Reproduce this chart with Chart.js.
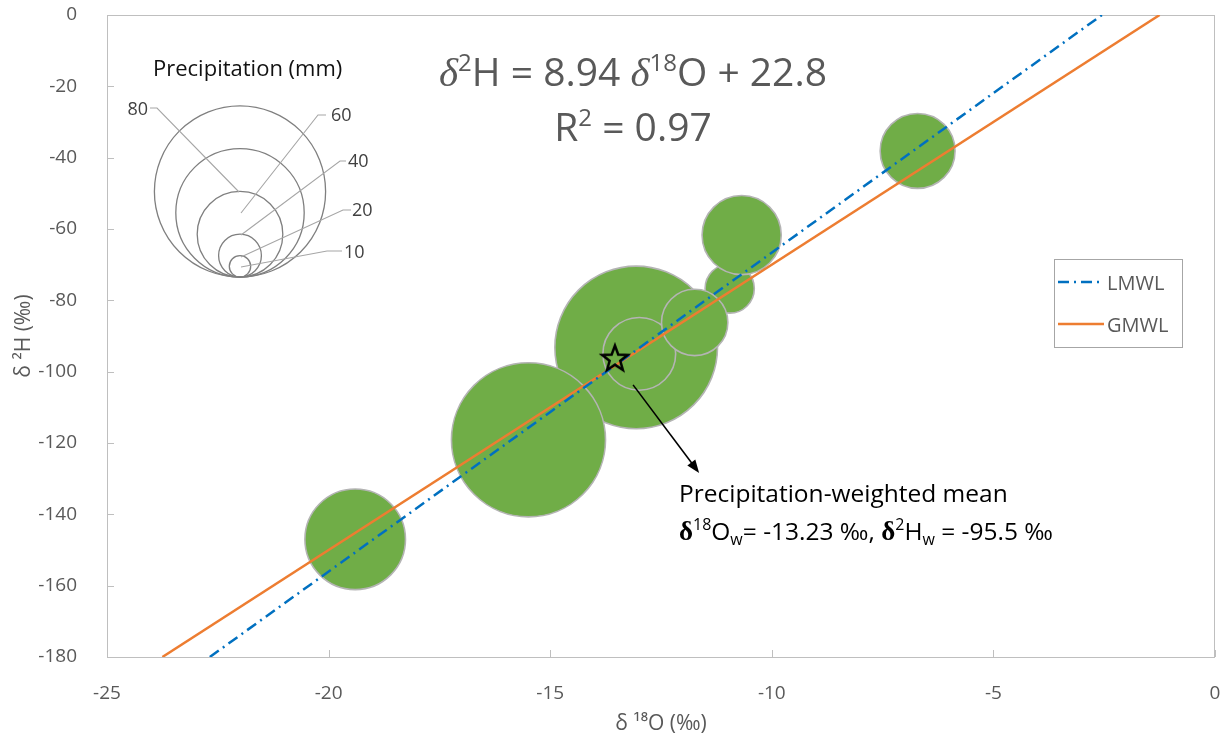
<!DOCTYPE html>
<html>
<head>
<meta charset="utf-8">
<script src="https://cdn.jsdelivr.net/npm/chart.js@4.4.1/dist/chart.umd.min.js"></script>
<style>
  html, body { margin: 0; background: #fff; }
  #wrap { width: 1225px; height: 740px; }
</style>
</head>
<body>
<div id="wrap"><canvas id="chart"></canvas></div>
<script>
// monthly samples: d18O, d2H (permil) and precipitation (mm)
const o18 = [-13.06, -15.49, -12.99, -10.95, -10.68, -11.74, -6.71, -19.40];
const h2 = [-93.2, -119.1, -95.0, -76.7, -61.7, -86.2, -38.1, -147.0];
const precip = [76, 72, 34, 23, 37, 31, 35, 47];

// meteoric water lines (end points)
const lmwlO = [-22.68, -2.55];
const lmwlH = [-180, 0];
const gmwlO = [-23.75, -1.25];
const gmwlH = [-180, 0];

// weighted mean marker + arrow
const meanO = [-13.54];
const meanH = [-96.2];
const arrowO = [-13.13, -11.64];
const arrowH = [-103.7, -128.4];

const xTicks = [-25, -20, -15, -10, -5, 0];
const yTicks = [0, -20, -40, -60, -80, -100, -120, -140, -160, -180];
const sizeLegend = [80, 60, 40, 20, 10];

const R_PER_MM = 1.07;
const GREY = '#595959';
const FONT = '"Open Sans", sans-serif';
Chart.defaults.font.family = FONT;
Chart.defaults.color = GREY;

const pts = (xs, ys) => xs.map((x, i) => ({x, y: ys[i]}));

function starImage(){
  const c = document.createElement('canvas');
  c.width = c.height = 34;
  const g = c.getContext('2d');
  g.beginPath();
  for (let i = 0; i < 10; i++) {
    const r = i % 2 ? 5.6 : 13.5;
    const a = -Math.PI / 2 + i * Math.PI / 5;
    g.lineTo(17 + r * Math.cos(a), 18 + r * Math.sin(a));
  }
  g.closePath();
  g.lineWidth = 2.5;
  g.strokeStyle = '#000';
  g.stroke();
  return c;
}

// draw a row of text pieces: [text, font, dy]
function runs(ctx, x, y, parts, align){
  let w = 0;
  parts.forEach(p => { ctx.font = p[1]; w += ctx.measureText(p[0]).width; });
  let cx = align === 'center' ? x - w / 2 : x;
  ctx.textAlign = 'left';
  ctx.textBaseline = 'alphabetic';
  parts.forEach(p => {
    ctx.font = p[1];
    ctx.fillText(p[0], cx, y + (p[2] || 0));
    cx += ctx.measureText(p[0]).width;
  });
}

const decor = {
  id: 'decor',
  beforeDatasetsDraw(chart){
    const {ctx, chartArea: a, scales: {x, y}} = chart;
    ctx.save();
    ctx.strokeStyle = '#BFBFBF';
    ctx.lineWidth = 1;
    ctx.strokeRect(a.left + 0.5, a.top + 0.5, a.right - a.left - 1, a.bottom - a.top);
    ctx.beginPath();
    xTicks.forEach(v => { const p = Math.round(x.getPixelForValue(v)) + 0.5; ctx.moveTo(p, a.bottom); ctx.lineTo(p, a.bottom - 7); });
    yTicks.forEach(v => { const p = Math.round(y.getPixelForValue(v)) + 0.5; ctx.moveTo(a.left, p); ctx.lineTo(a.left + 7, p); });
    ctx.stroke();
    ctx.restore();
  },
  afterDatasetsDraw(chart){
    const {ctx, scales: {x, y}} = chart;
    ctx.save();

    // arrow to the weighted mean label
    const x1 = x.getPixelForValue(arrowO[0]), y1 = y.getPixelForValue(arrowH[0]);
    const x2 = x.getPixelForValue(arrowO[1]), y2 = y.getPixelForValue(arrowH[1]);
    const ang = Math.atan2(y2 - y1, x2 - x1);
    ctx.strokeStyle = '#000'; ctx.fillStyle = '#000'; ctx.lineWidth = 1.6;
    ctx.beginPath(); ctx.moveTo(x1, y1); ctx.lineTo(x2 - 8 * Math.cos(ang), y2 - 8 * Math.sin(ang)); ctx.stroke();
    ctx.beginPath();
    ctx.moveTo(x2, y2);
    ctx.lineTo(x2 - 13 * Math.cos(ang) + 5 * Math.sin(ang), y2 - 13 * Math.sin(ang) - 5 * Math.cos(ang));
    ctx.lineTo(x2 - 13 * Math.cos(ang) - 5 * Math.sin(ang), y2 - 13 * Math.sin(ang) + 5 * Math.cos(ang));
    ctx.closePath(); ctx.fill();

    // precipitation size legend
    const cx = 240, bottom = 277;
    ctx.strokeStyle = '#7F7F7F'; ctx.lineWidth = 1.3;
    sizeLegend.forEach(v => {
      const r = v * R_PER_MM;
      ctx.beginPath(); ctx.arc(cx, bottom - r, r, 0, Math.PI * 2); ctx.stroke();
    });
    const leaders = [
      [[150, 108], [157, 108], [239, 192]],
      [[326, 115], [318, 115], [241, 213]],
      [[346, 161], [340, 161], [241, 235]],
      [[351, 210], [343, 210], [241, 257]],
      [[342, 251], [327, 251], [241, 267]]
    ];
    ctx.strokeStyle = '#A6A6A6'; ctx.lineWidth = 1.1;
    leaders.forEach(l => {
      ctx.beginPath(); ctx.moveTo(l[0][0], l[0][1]);
      l.slice(1).forEach(p => ctx.lineTo(p[0], p[1]));
      ctx.stroke();
    });
    ctx.fillStyle = '#404040';
    ctx.font = '18px ' + FONT;
    ctx.textBaseline = 'middle';
    ctx.textAlign = 'right'; ctx.fillText(String(sizeLegend[0]), 148, 110);
    ctx.textAlign = 'left';
    ctx.fillText(String(sizeLegend[1]), 331, 116);
    ctx.fillText(String(sizeLegend[2]), 348, 162);
    ctx.fillText(String(sizeLegend[3]), 352, 211);
    ctx.fillText(String(sizeLegend[4]), 344, 253);
    ctx.fillStyle = '#111';
    ctx.font = '22px ' + FONT;
    ctx.textBaseline = 'alphabetic';
    ctx.fillText('Precipitation (mm)', 153, 76);

    // regression equation
    ctx.fillStyle = GREY;
    const big = '39px ' + FONT, sup = '24px ' + FONT, dl = 'italic 41px "Liberation Serif", serif';
    runs(ctx, 633, 86, [['δ', dl], ['2', sup, -15], ['H = 8.94 ', big], ['δ', dl], ['18', sup, -15], ['O + 22.8', big]], 'center');
    runs(ctx, 633, 141, [['R', big], ['2', sup, -15], [' = 0.97', big]], 'center');

    // weighted mean text
    ctx.fillStyle = '#000';
    const t = '24.5px ' + FONT, s = '16px ' + FONT, bd = 'bold 27px "Liberation Serif", serif';
    runs(ctx, 679, 502, [['Precipitation-weighted mean', t]]);
    runs(ctx, 679, 540, [['δ', bd], ['18', s, -10], ['O', t], ['w', s, 5], ['= -13.23 ‰, ', t],
                         ['δ', bd], ['2', s, -10], ['H', t], ['w', s, 5], [' = -95.5 ‰', t]]);

    // line legend
    ctx.strokeStyle = '#A6A6A6'; ctx.lineWidth = 1;
    ctx.strokeRect(1054.5, 259.5, 128, 88);
    ctx.lineWidth = 2.5;
    ctx.strokeStyle = '#0070C0'; ctx.setLineDash([11, 5, 2, 5]);
    ctx.beginPath(); ctx.moveTo(1058, 282); ctx.lineTo(1104, 282); ctx.stroke();
    ctx.strokeStyle = '#ED7D31'; ctx.setLineDash([]);
    ctx.beginPath(); ctx.moveTo(1058, 324); ctx.lineTo(1104, 324); ctx.stroke();
    ctx.fillStyle = GREY; ctx.font = '20px ' + FONT;
    ctx.fillText('LMWL', 1107, 290);
    ctx.fillText('GMWL', 1107, 332);
    ctx.restore();
  }
};

new Chart(document.getElementById('chart'), {
  type: 'bubble',
  data: {
    datasets: [
      {type: 'scatter', label: 'mean', data: pts(meanO, meanH), pointStyle: starImage(), order: 0},
      {type: 'line', label: 'LMWL', data: pts(lmwlO, lmwlH), borderColor: '#0070C0', borderWidth: 2.5,
       borderDash: [11, 5, 2, 5], pointRadius: 0, fill: false, order: 1},
      {type: 'line', label: 'GMWL', data: pts(gmwlO, gmwlH), borderColor: '#ED7D31', borderWidth: 2.5,
       pointRadius: 0, fill: false, order: 1},
      {label: 'samples', data: o18.map((x, i) => ({x, y: h2[i], r: precip[i] * R_PER_MM})),
       backgroundColor: '#70AD47', borderColor: '#B4B4B4', borderWidth: 1.6, order: 2}
    ]
  },
  options: {
    responsive: true,
    maintainAspectRatio: false,
    animation: false,
    layout: {autoPadding: false, padding: {top: 15, right: 10, left: 0, bottom: 0}},
    plugins: {legend: {display: false}, tooltip: {enabled: false}},
    scales: {
      x: {
        type: 'linear', min: -25, max: 0,
        afterFit: s => { s.height = 83; s.paddingLeft = 0; s.paddingRight = 0; },
        afterBuildTicks: s => { s.ticks = xTicks.map(v => ({value: v})); },
        grid: {display: false}, border: {display: false},
        ticks: {font: {size: 19}, color: GREY, padding: 17},
        title: {display: true, text: 'δ ¹⁸O (‰)', font: {size: 21}, color: GREY, padding: {top: 0, bottom: 3}}
      },
      y: {
        type: 'linear', min: -180, max: 0,
        afterFit: s => { s.width = 107; s.paddingTop = 0; s.paddingBottom = 0; },
        afterBuildTicks: s => { s.ticks = yTicks.map(v => ({value: v})); },
        grid: {display: false}, border: {display: false},
        ticks: {font: {size: 19}, color: GREY, padding: 22},
        title: {display: true, text: 'δ ²H (‰)', font: {size: 21}, color: GREY, padding: {top: 11, bottom: 0}}
      }
    }
  },
  plugins: [decor]
});
</script>
</body>
</html>
